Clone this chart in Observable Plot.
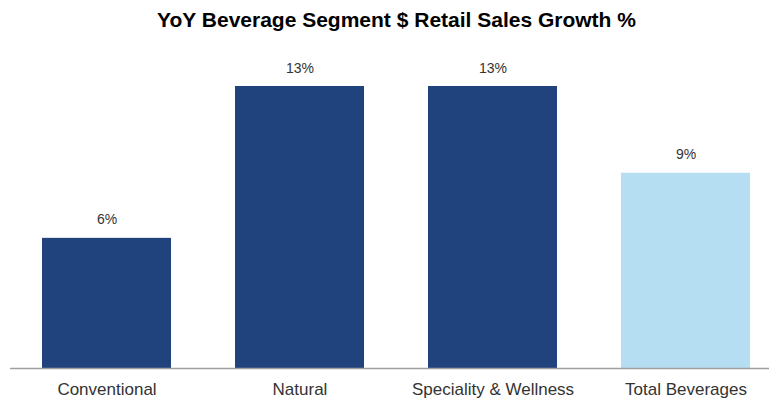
<!DOCTYPE html>
<html>
<head>
<meta charset="utf-8">
<script src="https://cdn.jsdelivr.net/npm/d3@7"></script>
<script src="https://cdn.jsdelivr.net/npm/@observablehq/plot@0.6"></script>
<style>
  body { margin: 0; background: #fff; font-family: "Liberation Sans", Arial, sans-serif; }
  #title { height: 36px; line-height: 40px; text-align: center; font-weight: bold; font-size: 21px; color: #000; padding-left: 24px; overflow: visible; white-space: nowrap; }
</style>
</head>
<body>
<div id="title">YoY Beverage Segment $ Retail Sales Growth %</div>
<div id="chart"></div>
<script>
const categories = ["Conventional", "Natural", "Speciality & Wellness", "Total Beverages"];
const growth = [6, 13, 13, 9];
const labels = ["6%", "13%", "13%", "9%"];
const colors = ["#21437d", "#21437d", "#21437d", "#b6def2"];

const data = categories.map((c, i) => ({category: c, value: growth[i], label: labels[i], color: colors[i]}));

const chart = Plot.plot({
  width: 769,
  height: 365,
  marginLeft: 10,
  marginRight: 0,
  marginTop: 0,
  marginBottom: 33,
  style: {fontFamily: "'Liberation Sans', Arial, sans-serif", fontSize: "14px", color: "#333", background: "#fff"},
  x: {domain: categories, range: [10, 782], paddingInner: 0.332, paddingOuter: 0.166, label: null},
  y: {domain: [0, 13], range: [332, 50], axis: null},
  marks: [
    Plot.barY(data, {x: "category", y: "value", fill: "color"}),
    Plot.ruleY([0], {stroke: "#a0a0a0", strokeWidth: 1.5}),
    Plot.text(data, {x: "category", y: "value", text: "label", lineAnchor: "bottom", dy: -14, fill: "#333", fontSize: 14}),
    Plot.axisX({tickSize: 0, tickPadding: 14, fontSize: 17, fill: "#333", label: null})
  ]
});
document.getElementById("chart").appendChild(chart);
</script>
</body>
</html>
